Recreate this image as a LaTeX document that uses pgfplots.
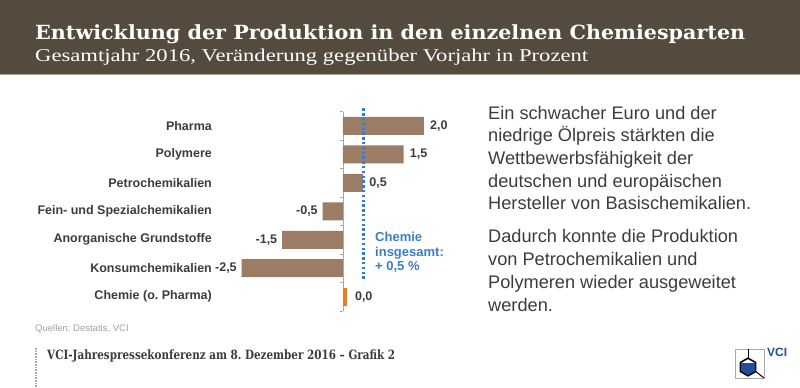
\documentclass[border=0pt]{standalone}
\usepackage{fontspec}
\setmainfont{Liberation Sans}
\newfontfamily\serifT{DejaVu Serif}
\newfontfamily\serifS{Liberation Serif}
\usepackage{pgfplots}
\pgfplotsset{compat=1.18}
\definecolor{hdr}{HTML}{554A3E}
\definecolor{hdrline}{HTML}{A79E94}
\definecolor{barbrown}{HTML}{9B7C65}
\definecolor{barorange}{HTML}{E67E22}
\definecolor{dotblue}{HTML}{3B7DC4}
\definecolor{txt}{HTML}{3C3C3C}
\definecolor{axgray}{HTML}{A8A8A8}
\definecolor{srcgray}{HTML}{A0A0A0}
\definecolor{logoblue}{HTML}{1F4E9C}
\newsavebox\fitbox
\newcommand\fitw[2]{\sbox\fitbox{#2}\pgfmathsetmacro\fitsf{#1/\the\wd\fitbox}\scalebox{\fitsf}[1]{\usebox\fitbox}}
\frenchspacing
\begin{document}
\begin{tikzpicture}
\begin{scope}[x=1pt,y=1pt]
\path[use as bounding box] (0,0) rectangle (800,387);
% header
\fill[hdr] (0,313) rectangle (800,387);
\draw[hdrline, line width=1.2pt] (0,312.4) -- (800,312.4);
\node[anchor=base west, inner sep=0, text=white] at (35,347)
  {\fitw{710}{\serifT\bfseries\fontsize{19.5}{22}\selectfont Entwicklung der Produktion in den einzelnen Chemiesparten}};
\node[anchor=base west, inner sep=0, text=white] at (35,325)
  {\fitw{553}{\serifS\fontsize{18}{21}\selectfont Gesamtjahr 2016, Veränderung gegenüber Vorjahr in Prozent}};
\end{scope}
% chart
\begin{axis}[
  at={(215.4pt,76pt)}, anchor=south west,
  scale only axis, width=232.875pt, height=199.5pt,
  xmin=-3.15, xmax=2.6, ymin=-0.5, ymax=6.5,
  axis x line=none, axis y line*=left,
  y axis line style={draw=none},
  ytick={0,1,2,3,4,5,6},
  yticklabels={Chemie (o. Pharma), Konsumchemikalien, Anorganische Grundstoffe, Fein- und Spezialchemikalien, Petrochemikalien, Polymere, Pharma},
  yticklabel style={font=\bfseries\fontsize{12.5}{14}\selectfont, text=txt},
  major tick length=0pt,
  clip=false,
  bar width=18pt, bar shift=0pt,
]
\draw[axgray, line width=0.7pt] (axis cs:0,-0.5) -- (axis cs:0,6.5);
\pgfplotsinvokeforeach{-0.5,0.5,1.5,2.5,3.5,4.5,5.5,6.5}{
  \draw[axgray, line width=0.7pt] (axis cs:0,#1) -- (axis cs:-0.075,#1);
}
\addplot[xbar, fill=barbrown, draw=none, nodes near coords, point meta=explicit symbolic,
  nodes near coords style={anchor=west, xshift=2.7pt, font=\bfseries\fontsize{12.5}{14}\selectfont, text=txt}]
  coordinates {(2,6) [2,0] (1.5,5) [1,5] (0.5,4) [0,5]};
\addplot[xbar, fill=barbrown, draw=none, nodes near coords, point meta=explicit symbolic,
  nodes near coords style={anchor=east, xshift=-1.5pt, font=\bfseries\fontsize{12.5}{14}\selectfont, text=txt}]
  coordinates {(-0.5,3) [-0,5] (-1.5,2) [-1,5] (-2.5,1) [-2,5]};
\addplot[xbar, fill=barorange, draw=none, nodes near coords, point meta=explicit symbolic,
  nodes near coords style={anchor=west, xshift=4.5pt, font=\bfseries\fontsize{12.5}{14}\selectfont, text=txt}]
  coordinates {(0.1,0) [0,0]};
\addplot[dotblue, line width=2.6pt, dash pattern=on 2.4pt off 2.4pt, mark=none]
  coordinates {(0.5,0.63) (0.5,6.63)};
\end{axis}
\begin{scope}[x=1pt,y=1pt]
% Chemie insgesamt annotation
\begin{scope}[every node/.style={anchor=base west, inner sep=0, text=dotblue, font=\bfseries\fontsize{13}{15}\selectfont}]
\node at (375,145) {Chemie};
\node at (375,130.3) {insgesamt:};
\node at (375,116.3) {+ 0,5 \%};
\end{scope}
% right text
\begin{scope}[every node/.style={anchor=base west, inner sep=0, text=txt, font=\fontsize{18.2}{22}\selectfont}]
\node at (488,267.7) {Ein schwacher Euro und der};
\node at (488,245.1) {niedrige Ölpreis stärkten die};
\node at (488,222.5) {Wettbewerbsfähigkeit der};
\node at (488,199.9) {deutschen und europäischen};
\node at (488,177.3) {Hersteller von Basischemikalien.};
\node at (488,144) {Dadurch konnte die Produktion};
\node at (488,121.1) {von Petrochemikalien und};
\node at (488,98.2) {Polymeren wieder ausgeweitet};
\node at (488,75.3) {werden.};
\end{scope}
% source
\node[anchor=base west, inner sep=0, text=srcgray, font=\fontsize{9.5}{11}\selectfont] at (35,55.3) {Quellen: Destatis, VCI};
% footer
\draw[axgray, line width=1.6pt, dash pattern=on 0.8pt off 0.8pt] (36,0) -- (36,39);
\node[anchor=base west, inner sep=0, text=txt] at (47,27)
  {\fitw{348}{\serifT\bfseries\fontsize{12.8}{15}\selectfont VCI-Jahrespressekonferenz am 8. Dezember 2016 – Grafik 2}};
% logo
\draw[axgray, line width=0.8pt] (735,9) rectangle (764,38);
\draw[black, line width=1pt] (748,38) -- (748,29);
\draw[black, line width=1pt] (755.8,15.5) -- (764,9);
\filldraw[fill=logoblue, draw=black, line width=1.3pt] (748,29) -- (755.8,24.5) -- (755.8,15.5) -- (748,11) -- (740.2,15.5) -- (740.2,24.5) -- cycle;
\fill[white] (741.5,24) -- (748,27.6) -- (754.5,24) -- cycle;
\node[anchor=base west, inner sep=0, text=logoblue, font=\bfseries\fontsize{12}{14}\selectfont] at (767,30) {VCI};
\end{scope}
\end{tikzpicture}
\end{document}
